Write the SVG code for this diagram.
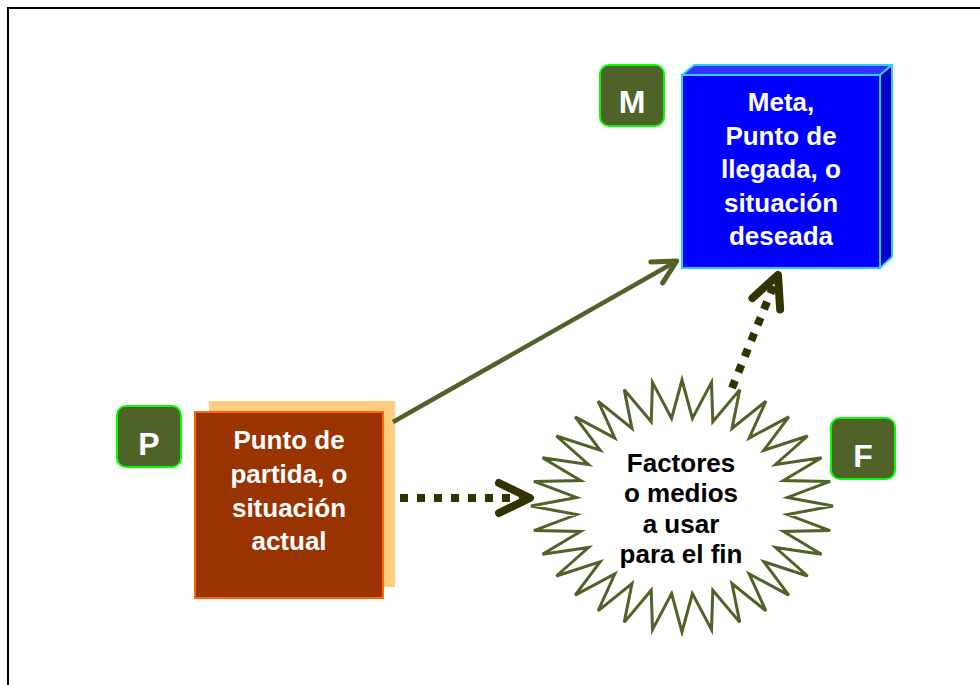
<svg xmlns="http://www.w3.org/2000/svg" width="980" height="685" viewBox="0 0 980 685">
<style>
  .t { font-family: "Liberation Sans", Arial, sans-serif; font-weight: bold; font-size: 26px; text-anchor: middle; }
  .w { fill: #FFFFFF; }
  .k { fill: #000000; }
  .tag rect { fill: #4F6228; stroke: #00FF00; stroke-width: 2; }
  .tag text { font-family: "Liberation Sans", Arial, sans-serif; font-weight: bold; font-size: 32px; text-anchor: middle; fill: #FFFFFF; }
  .solid { fill: none; stroke: #4F6228; stroke-width: 4.5; }
  .dots { fill: none; stroke: #333300; stroke-width: 8; stroke-dasharray: 8 9; }
</style>
<defs>
  <marker id="headSolid" markerUnits="userSpaceOnUse" orient="auto" refX="-2" refY="0" markerWidth="40" markerHeight="40" overflow="visible">
    <path d="M -23,-12 L 0,0 L -23,12" fill="none" stroke="#4F6228" stroke-width="5" stroke-linecap="round" stroke-linejoin="round"/>
  </marker>
  <marker id="headDots" markerUnits="userSpaceOnUse" orient="auto" refX="-6" refY="0" markerWidth="50" markerHeight="50" overflow="visible">
    <path d="M -31,-15 L 0,0 L -31,15" fill="none" stroke="#333300" stroke-width="8" stroke-linecap="round" stroke-linejoin="round"/>
  </marker>
</defs>
<rect width="980" height="685" fill="#FFFFFF"/>
<path d="M 8,690 V 8 H 990" fill="none" stroke="#000000" stroke-width="2"/>

<g id="node-P">
  <rect x="209" y="401" width="186" height="186" fill="#FFCC80"/>
  <rect x="195" y="412" width="188" height="186" fill="#993300" stroke="#FF6600" stroke-width="2"/>
  <text class="t w" x="289" y="449">Punto de</text>
  <text class="t w" x="289" y="483">partida, o</text>
  <text class="t w" x="289" y="517">situación</text>
  <text class="t w" x="289" y="550">actual</text>
</g>

<g id="node-M">
  <polygon points="682,75 694,65 892,65 880,75" fill="#3333FF" stroke="#33CCFF" stroke-width="2" stroke-linejoin="round"/>
  <polygon points="880,75 892,65 892,257 880,268" fill="#0000CC" stroke="#33CCFF" stroke-width="2" stroke-linejoin="round"/>
  <rect x="682" y="75" width="198" height="193" fill="#0000FF" stroke="#33CCFF" stroke-width="2"/>
  <text class="t w" x="781" y="111">Meta,</text>
  <text class="t w" x="781" y="145">Punto de</text>
  <text class="t w" x="781" y="178">llegada, o</text>
  <text class="t w" x="781" y="212">situación</text>
  <text class="t w" x="781" y="245">deseada</text>
</g>

<g id="node-F">
  <polygon fill="#FFFFFF" stroke="#4F6228" stroke-width="3" stroke-linejoin="miter" points="682,380 692.4,418.4 711.5,382.4 712.8,421.8 739.8,389.6 732,428.4 765.9,401.2 749.2,438 788.8,416.9 763.9,450.2 807.6,436 775.5,464.5 821.5,457.8 783.4,480.5 830.1,481.4 787.5,497.4 833,506 787.5,514.6 830.1,530.6 783.4,531.5 821.5,554.2 775.5,547.5 807.6,576 763.9,561.8 788.8,595.1 749.2,574 765.9,610.8 732,583.6 739.8,622.4 712.8,590.2 711.5,629.6 692.4,593.6 682,632 671.6,593.6 652.5,629.6 651.2,590.2 624.2,622.4 632,583.6 598.1,610.8 614.8,574 575.2,595.1 600.1,561.8 556.4,576 588.5,547.5 542.5,554.2 580.6,531.5 533.9,530.6 576.5,514.6 531,506 576.5,497.4 533.9,481.4 580.6,480.5 542.5,457.8 588.5,464.5 556.4,436 600.1,450.2 575.2,416.9 614.8,438 598.1,401.2 632,428.4 624.2,389.6 651.2,421.8 652.5,382.4 671.6,418.4"/>
  <text class="t k" x="681" y="472">Factores</text>
  <text class="t k" x="681" y="502">o medios</text>
  <text class="t k" x="681" y="533">a usar</text>
  <text class="t k" x="681" y="563">para el fin</text>
</g>

<g id="label-M" class="tag">
  <rect x="600" y="65" width="64" height="61" rx="9" ry="9"/>
  <text x="632" y="113">M</text>
</g>
<g id="label-P" class="tag">
  <rect x="117" y="406" width="64" height="61" rx="9" ry="9"/>
  <text x="149" y="455">P</text>
</g>
<g id="label-F" class="tag">
  <rect x="831" y="418" width="64" height="61" rx="9" ry="9"/>
  <text x="863" y="467">F</text>
</g>

<g id="connectors">
  <path class="solid" d="M 393,422 L 675,262" marker-end="url(#headSolid)"/>
  <path class="dots" d="M 400,498 L 524,498" marker-end="url(#headDots)"/>
  <path class="dots" d="M 732,388 L 775.7,280.6" marker-end="url(#headDots)"/>
</g>
</svg>
